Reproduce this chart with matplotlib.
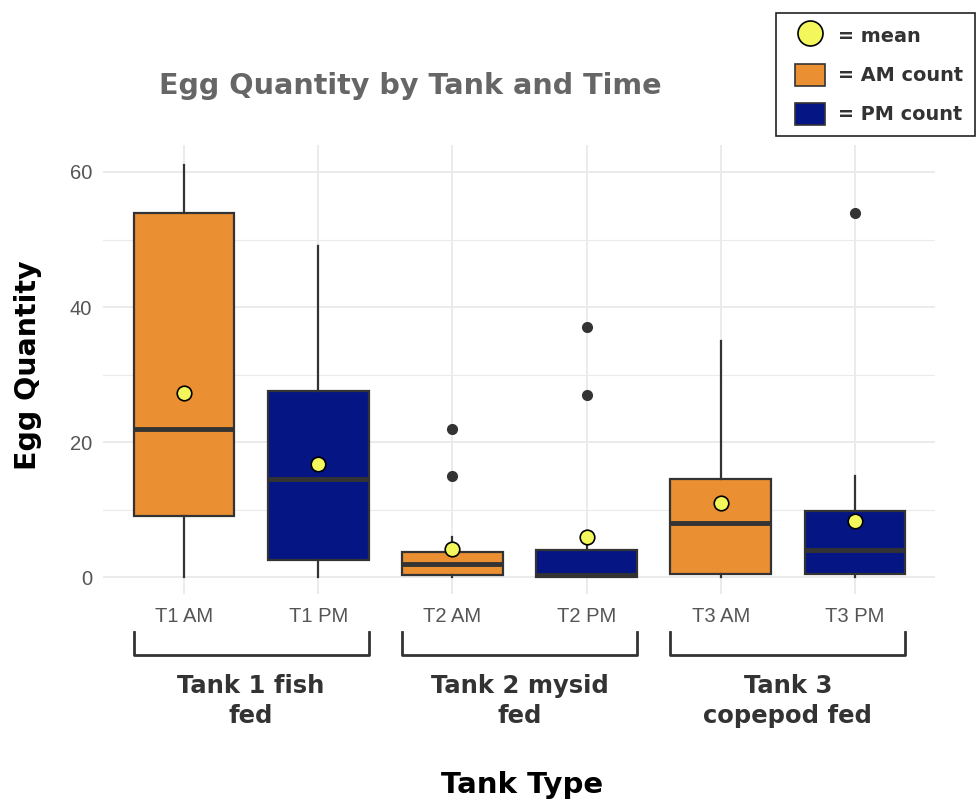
import numpy as np
from matplotlib import pyplot as plt
from matplotlib.lines import Line2D
from matplotlib.patches import Patch, Rectangle
from matplotlib.legend_handler import HandlerPatch
import matplotlib.transforms as mtransforms

# box statistics
labels = ["T1 AM", "T1 PM", "T2 AM", "T2 PM", "T3 AM", "T3 PM"]
whislo = [0, 0, 0, 0, 0, 0]
q1 = [9, 2.5, 0.25, 0, 0.4, 0.4]
medians = [22, 14.5, 2.0, 0.3, 8.0, 4.0]
q3 = [54, 27.6, 3.75, 4.0, 14.5, 9.8]
whishi = [61, 49, 5.9, 6.8, 35, 15]
outliers = [[], [], [15, 22], [27, 37], [], [54]]
means = [27.2, 16.8, 4.1, 5.9, 11.0, 8.3]

groups = ["Tank 1 fish\nfed", "Tank 2 mysid\nfed", "Tank 3\ncopepod fed"]
group_centers = [1.5, 3.5, 5.5]

AM_COLOR = "#EA9032"
PM_COLOR = "#061584"
EDGE = "#333333"
MEAN_COLOR = "#F4F75C"

fig = plt.figure(figsize=(9.76, 8.01), dpi=100)
ax = fig.add_axes([0.106, 0.2584, 0.8525, 0.5606])

positions = np.arange(1, len(labels) + 1)
stats = []
for i, lab in enumerate(labels):
    stats.append(dict(label=lab, whislo=whislo[i], q1=q1[i], med=medians[i],
                      q3=q3[i], whishi=whishi[i], fliers=outliers[i]))

bp = ax.bxp(stats, positions=positions, widths=0.75, patch_artist=True,
            showcaps=False,
            boxprops=dict(edgecolor=EDGE, linewidth=1.6),
            medianprops=dict(color=EDGE, linewidth=3.5, solid_capstyle="butt"),
            whiskerprops=dict(color=EDGE, linewidth=1.6),
            flierprops=dict(marker="o", markerfacecolor=EDGE, markeredgecolor=EDGE,
                            markersize=7))
for i, box in enumerate(bp["boxes"]):
    box.set_facecolor(AM_COLOR if i % 2 == 0 else PM_COLOR)
    box.set_zorder(2)
for ln in bp["whiskers"] + bp["medians"] + bp["fliers"]:
    ln.set_zorder(3)

ax.scatter(positions, means, s=110, color=MEAN_COLOR, edgecolor="black",
           linewidth=1.2, zorder=5)

ax.set_xlim(0.4, 6.6)
ax.set_ylim(-2.5, 64)
ax.set_yticks([0, 20, 40, 60])
ax.set_yticks([10, 30, 50], minor=True)
ax.set_xticks(positions)
ax.set_xticklabels(labels)
ax.grid(True, which="major", color="#EBEBEB", linewidth=1.4, zorder=0)
ax.grid(True, which="minor", axis="y", color="#EBEBEB", linewidth=0.8, zorder=0)
ax.set_axisbelow(True)
for sp in ax.spines.values():
    sp.set_visible(False)
ax.tick_params(which="both", length=0)
ax.tick_params(axis="y", pad=8)
ax.tick_params(axis="x", pad=9)
for t in ax.get_xticklabels() + ax.get_yticklabels():
    t.set_fontfamily("Liberation Sans")
    t.set_fontsize(14.5)
    t.set_color("#555555")

# group brackets under the tick labels
trans = mtransforms.blended_transform_factory(ax.transData, fig.transFigure)
for c, g in zip(group_centers, groups):
    x0, x1 = c - 0.875, c + 0.875
    ax.plot([x0, x0, x1, x1], [0.211, 0.182, 0.182, 0.211], transform=trans,
            color=EDGE, linewidth=2, clip_on=False)
    ax.text(c, 0.125, g, transform=trans, ha="center", va="center",
            fontsize=17.5, fontweight="bold", color="#333333", linespacing=1.3)

fig.text(0.42, 0.893, "Egg Quantity by Tank and Time", ha="center", va="center",
         fontsize=20.6, fontweight="bold", color="#666666")
fig.text(0.029, 0.544, "Egg Quantity", rotation=90, ha="center", va="center",
         fontsize=20.5, fontweight="bold", color="black")
fig.text(0.535, 0.020, "Tank Type", ha="center", va="center",
         fontsize=21, fontweight="bold", color="black")


def square_in_middle(legend, orig_handle, xdescent, ydescent, width, height, fontsize):
    w = width * 0.66
    return Rectangle((-xdescent + (width - w) / 2, -ydescent), w, height)


handles = [
    Line2D([], [], marker="o", linestyle="none", markersize=18,
           markerfacecolor=MEAN_COLOR, markeredgecolor="black", markeredgewidth=1.2),
    Patch(facecolor=AM_COLOR, edgecolor=EDGE, linewidth=1.2),
    Patch(facecolor=PM_COLOR, edgecolor=EDGE, linewidth=1.2),
]
leg = fig.legend(handles, ["= mean", "= AM count", "= PM count"],
                 loc="upper right", bbox_to_anchor=(0.999, 0.984), borderaxespad=0,
                 fontsize=13.85, handlelength=2.35, handleheight=1.38,
                 labelspacing=0.9, handletextpad=0.31, borderpad=0.6,
                 fancybox=False, framealpha=1, edgecolor="#222222",
                 handler_map={Patch: HandlerPatch(patch_func=square_in_middle)})
leg.get_frame().set_linewidth(1.2)
for t in leg.get_texts():
    t.set_fontweight("bold")
    t.set_color("#333333")

fig.savefig("out.png", dpi=100)
